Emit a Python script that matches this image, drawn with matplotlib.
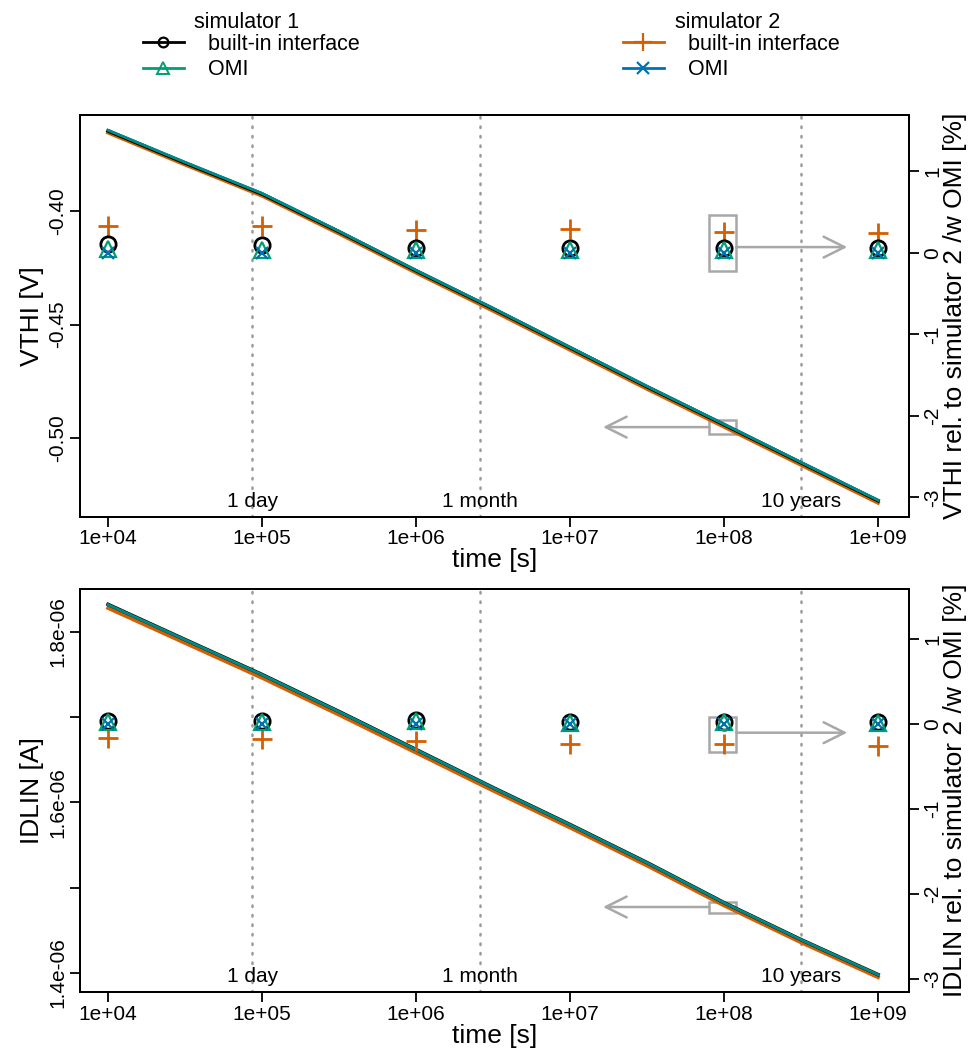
import matplotlib
matplotlib.use("Agg")
import matplotlib.pyplot as plt
from matplotlib.lines import Line2D
from matplotlib.patches import Rectangle
import matplotlib.transforms as mtransforms

plt.rcParams['font.family'] = ['Liberation Sans', 'DejaVu Sans']
plt.rcParams['axes.unicode_minus'] = False

# ---------------- data ----------------
time_s = [1e4, 3.16e4, 1e5, 3.16e5, 1e6, 3.16e6, 1e7, 3.16e7, 1e8, 3.16e8, 1e9]
marker_time = [1e4, 1e5, 1e6, 1e7, 1e8, 1e9]
xtick_labels = ["1e+04", "1e+05", "1e+06", "1e+07", "1e+08", "1e+09"]

# VTHI [V]
vthi_sim1_builtin = [-0.3647, -0.3788, -0.3925, -0.4091, -0.4263, -0.4430, -0.4602, -0.4774, -0.4941, -0.5109, -0.5276]
vthi_sim1_omi = [-0.3644, -0.3785, -0.3922, -0.4089, -0.4261, -0.4428, -0.4600, -0.4772, -0.4939, -0.5107, -0.5274]
vthi_sim2_builtin = [-0.3655, -0.3796, -0.3933, -0.4100, -0.4272, -0.4440, -0.4612, -0.4784, -0.4951, -0.5119, -0.5286]
vthi_sim2_omi = [-0.3643, -0.3784, -0.3921, -0.4088, -0.4260, -0.4427, -0.4599, -0.4771, -0.4938, -0.5106, -0.5273]

# VTHI relative to simulator 2 w/ OMI [%]
vthi_rel_sim1_builtin = [0.11, 0.09, 0.06, 0.06, 0.06, 0.06]
vthi_rel_sim1_omi = [0.05, 0.04, 0.03, 0.03, 0.03, 0.03]
vthi_rel_sim2_builtin = [0.33, 0.33, 0.28, 0.29, 0.26, 0.24]
vthi_rel_sim2_omi = [0.0, 0.0, 0.0, 0.0, 0.0, 0.0]

# IDLIN [A]
idlin_sim1_builtin = [1.8323e-6, 1.7911e-6, 1.7501e-6, 1.7067e-6, 1.6621e-6, 1.6175e-6, 1.5741e-6, 1.5295e-6, 1.4825e-6, 1.4391e-6, 1.3981e-6]
idlin_sim1_omi = [1.8320e-6, 1.7909e-6, 1.7499e-6, 1.7065e-6, 1.6619e-6, 1.6173e-6, 1.5739e-6, 1.5293e-6, 1.4824e-6, 1.4390e-6, 1.3980e-6]
idlin_sim2_builtin = [1.8280e-6, 1.7870e-6, 1.7461e-6, 1.7028e-6, 1.6583e-6, 1.6138e-6, 1.5704e-6, 1.5259e-6, 1.4791e-6, 1.4358e-6, 1.3949e-6]
idlin_sim2_omi = [1.8317e-6, 1.7906e-6, 1.7496e-6, 1.7062e-6, 1.6616e-6, 1.6170e-6, 1.5736e-6, 1.5290e-6, 1.4821e-6, 1.4387e-6, 1.3977e-6]

# IDLIN relative to simulator 2 w/ OMI [%]
idlin_rel_sim1_builtin = [0.04, 0.04, 0.05, 0.02, 0.03, 0.02]
idlin_rel_sim1_omi = [0.03, 0.03, 0.04, 0.01, 0.02, 0.01]
idlin_rel_sim2_builtin = [-0.16, -0.17, -0.20, -0.23, -0.23, -0.26]
idlin_rel_sim2_omi = [0.0, 0.0, 0.0, 0.0, 0.0, 0.0]

# time markers
mark_times = [86400, 2.592e6, 3.156e8]
mark_labels = ["1 day", "1 month", "10 years"]

series_names = ["built-in interface", "OMI"]
legend_titles = ["simulator 1", "simulator 2"]

# ---------------- style ----------------
C_BLACK = "#000000"
C_TEAL = "#009E73"
C_ORANGE = "#D55E00"
C_BLUE = "#0072B2"
GRAY = "#A8A8A8"

W, H = 969, 1051
fig = plt.figure(figsize=(W / 100, H / 100), dpi=100)


def px_axes(left, top, right, bottom):
    return fig.add_axes([left / W, 1 - bottom / H, (right - left) / W, (bottom - top) / H])


def panel(ax, lines, rels, ylim, yticks, yticklabels, rylim, ylabel, rlabel,
          rbox, rarrow_y, lbox, larrow_y):
    ax.set_xscale('log')
    ax.set_xlim(10 ** 3.818, 10 ** 9.201)
    ax.set_ylim(*ylim)
    # dotted time markers
    trans = mtransforms.blended_transform_factory(ax.transData, ax.transAxes)
    for t, lab in zip(mark_times, mark_labels):
        ax.axvline(t, color="#9a9a9a", lw=1.8, linestyle=(0, (0.6, 3.2)),
                   dash_capstyle='round', zorder=1)
        ax.text(t, 0.015, lab, transform=trans, ha='center', va='bottom',
                fontsize=15)
    l_b, l_o, r_b, r_o = lines
    ax.plot(time_s, r_b, color=C_ORANGE, lw=2.6, zorder=3)
    ax.plot(time_s, l_b, color=C_BLACK, lw=2.6, zorder=3)
    ax.plot(time_s, l_o, color=C_TEAL, lw=2.0, zorder=3)
    ax.plot(time_s, r_o, color=C_BLUE, lw=1.2, zorder=3, alpha=0.6)

    ax.set_xticks(marker_time)
    ax.set_xticklabels(xtick_labels)
    ax.xaxis.set_minor_locator(matplotlib.ticker.NullLocator())
    ax.set_yticks(yticks)
    ax.set_yticklabels(yticklabels, rotation=90, va='center')
    ax.tick_params(axis='both', direction='out', length=7, width=1.3,
                   labelsize=15, pad=2)
    ax.tick_params(axis='y', pad=2)
    ax.set_xlabel("time [s]", fontsize=19, labelpad=0)
    ax.set_ylabel(ylabel, fontsize=19, labelpad=3)
    for s in ax.spines.values():
        s.set_linewidth(1.4)

    ax2 = ax.twinx()
    ax2.set_ylim(*rylim)
    rb, ro, sb, so = rels
    ax2.plot(marker_time, sb, linestyle='none', marker='+', ms=14, mew=2,
             color=C_ORANGE, zorder=4)
    ax2.plot(marker_time, rb, linestyle='none', marker='o', ms=11, mew=2,
             mfc='none', color=C_BLACK, zorder=4)
    ax2.plot(marker_time, ro, linestyle='none', marker='^', ms=11, mew=1.6,
             mfc='none', color=C_TEAL, zorder=4)
    ax2.plot(marker_time, so, linestyle='none', marker='x', ms=8, mew=1.6,
             color=C_BLUE, zorder=4)
    ax2.set_yticks([1, 0, -1, -2, -3])
    ax2.set_yticklabels(["1", "0", "-1", "-2", "-3"], rotation=90, va='center')
    ax2.tick_params(axis='y', direction='out', length=7, width=1.3,
                    labelsize=15, pad=3)
    ax2.set_ylabel(rlabel, fontsize=19, labelpad=1)
    for s in ax2.spines.values():
        s.set_linewidth(1.4)

    # annotation: box around markers at 1e8 with arrow to the right axis
    x0, x1 = 10 ** 7.903, 10 ** 8.078
    ax2.add_patch(Rectangle((x0, rbox[0]), x1 - x0, rbox[1] - rbox[0],
                            fill=False, ec=GRAY, lw=1.8, zorder=2))
    ax2.annotate("", xy=(10 ** 8.80, rarrow_y), xytext=(x1, rarrow_y),
                 arrowprops=dict(arrowstyle='->,head_length=1.5,head_width=0.75',
                                 color=GRAY, lw=1.8, shrinkA=0, shrinkB=0))
    ax.add_patch(Rectangle((x0, lbox[0]), x1 - x0, lbox[1] - lbox[0],
                           fill=False, ec=GRAY, lw=1.8, zorder=2))
    ax.annotate("", xy=(10 ** 7.214, larrow_y), xytext=(x0, larrow_y),
                arrowprops=dict(arrowstyle='->,head_length=1.5,head_width=0.75',
                                color=GRAY, lw=1.8, shrinkA=0, shrinkB=0))
    return ax2


ax1 = px_axes(80, 115, 909, 517)
panel(ax1,
      (vthi_sim1_builtin, vthi_sim1_omi, vthi_sim2_builtin, vthi_sim2_omi),
      (vthi_rel_sim1_builtin, vthi_rel_sim1_omi, vthi_rel_sim2_builtin, vthi_rel_sim2_omi),
      (-0.5348, -0.3577), [-0.40, -0.45, -0.50], ["-0.40", "-0.45", "-0.50"],
      (-3.24, 1.69), "VTHI [V]", "VTHI rel. to simulator 2 /w OMI [%]",
      (-0.22, 0.465), 0.07, (-0.4982, -0.4921), -0.4952)

ax3 = px_axes(80, 589, 909, 992)
panel(ax3,
      (idlin_sim1_builtin, idlin_sim1_omi, idlin_sim2_builtin, idlin_sim2_omi),
      (idlin_rel_sim1_builtin, idlin_rel_sim1_omi, idlin_rel_sim2_builtin, idlin_rel_sim2_omi),
      (1.3777e-6, 1.8504e-6), [1.4e-6, 1.5e-6, 1.6e-6, 1.7e-6, 1.8e-6],
      ["1.4e-06", "", "1.6e-06", "", "1.8e-06"],
      (-3.15, 1.59), "IDLIN [A]", "IDLIN rel. to simulator 2 /w OMI [%]",
      (-0.33, 0.09), -0.10, (1.4704e-6, 1.4833e-6), 1.4774e-6)

# ---------------- legends ----------------
h1 = [Line2D([], [], color=C_BLACK, lw=2, marker='o', ms=7, mfc='none', mew=1.6),
      Line2D([], [], color=C_TEAL, lw=2, marker='^', ms=8, mfc='none', mew=1.4)]
h2 = [Line2D([], [], color=C_ORANGE, lw=2, marker='+', ms=13, mew=1.6),
      Line2D([], [], color=C_BLUE, lw=2, marker='x', ms=8, mew=1.6)]
common = dict(frameon=False, fontsize=15.5, loc='upper left',
              borderpad=0, borderaxespad=0, handlelength=1.9, handletextpad=1.1,
              labelspacing=0.2)
leg1 = fig.legend(h1, series_names, bbox_to_anchor=(143 / W, 1 - 34 / H), **common)
leg2 = fig.legend(h2, series_names, bbox_to_anchor=(623 / W, 1 - 34 / H), **common)
fig.text(247 / W, 1 - 22 / H, legend_titles[0], ha='center', va='center', fontsize=15.5)
fig.text(728 / W, 1 - 22 / H, legend_titles[1], ha='center', va='center', fontsize=15.5)

fig.savefig("out.png", dpi=100)
